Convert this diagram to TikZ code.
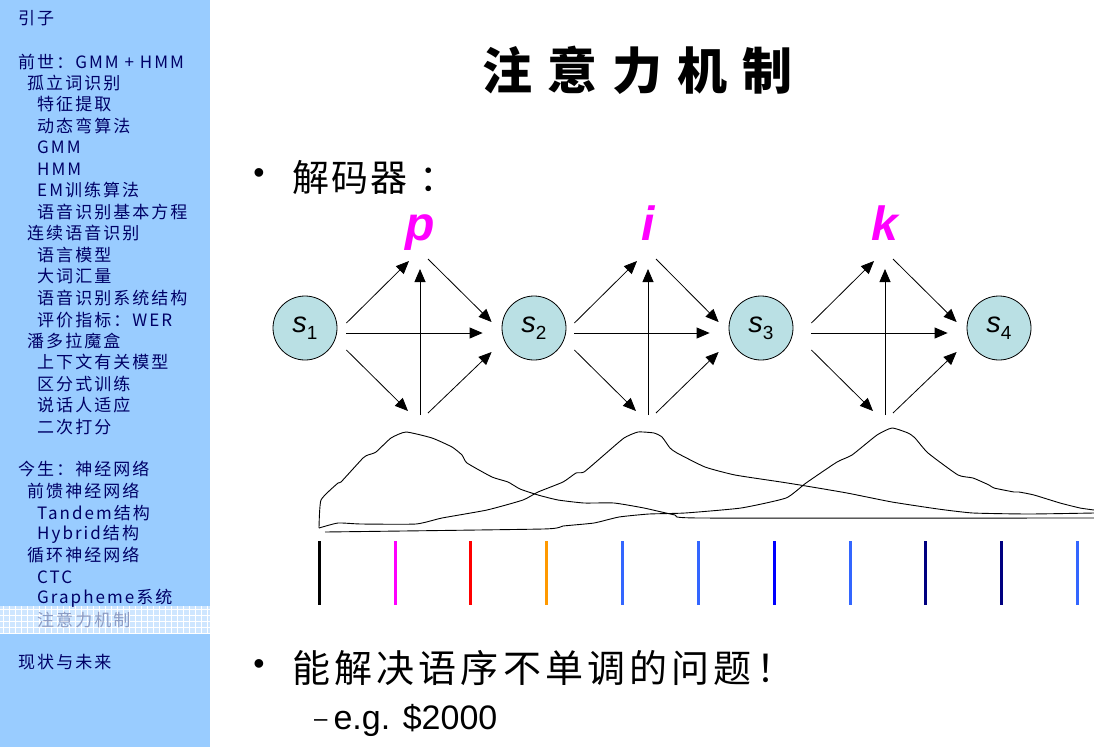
\documentclass[tikz,border=0pt]{standalone}
\usepackage{fontspec}
\setmainfont{Liberation Sans}
\newfontfamily\cjk{Noto Sans CJK SC}
\newfontfamily\sidefont[LetterSpace=12]{Noto Sans CJK SC}
\newfontfamily\titlefont[LetterSpace=30]{Noto Sans CJK SC}
\newfontfamily\headfont[LetterSpace=6]{Noto Sans CJK SC}
\newfontfamily\bulletfont[LetterSpace=11]{Noto Sans CJK SC}
\usetikzlibrary{arrows.meta}

\definecolor{sidebg}{RGB}{153,204,255}
\definecolor{sidetext}{RGB}{0,0,102}
\definecolor{sidegrey}{RGB}{140,155,195}
\definecolor{bandbg}{RGB}{206,230,255}
\definecolor{statefill}{RGB}{186,224,228}
\definecolor{pinkletter}{RGB}{255,0,255}
\definecolor{midblue}{RGB}{51,102,255}
\definecolor{darknavy}{RGB}{0,0,128}
\definecolor{barorange}{RGB}{255,153,0}

\newcommand{\statelabel}[1]{\textit{s}\raisebox{-0.45ex}{\fontsize{19}{19}\selectfont #1}}

\tikzset{
  sideitem/.style={anchor=west, inner sep=0pt, text=sidetext,
    font=\sidefont\fontsize{17}{17}\selectfont},
  state/.style={circle, draw, fill=statefill, line width=0.8pt,
    minimum size=64pt, inner sep=0pt, font=\fontsize{29}{29}\selectfont},
  letter/.style={anchor=base, inner sep=0pt, text=pinkletter,
    font=\fontsize{48}{48}\selectfont\bfseries\itshape},
  arr/.style={-{Triangle[length=13pt,width=11pt]}, line width=0.8pt},
  wave/.style={line width=0.9pt, line join=round},
  bar/.style={line width=3pt}
}

\begin{document}
\begin{tikzpicture}[x=1pt, y=-1pt]
  \useasboundingbox (0,0) rectangle (1094,747);

  % side bar
  \fill[sidebg] (0,0) rectangle (210,747);
  \fill[bandbg] (0,606) rectangle (210,633);
  \foreach \gx in {3,9,...,207}
    \draw[white, line width=0.6pt] (\gx,606) -- (\gx,633);
  \foreach \gy in {609,615,...,633}
    \draw[white, line width=0.6pt] (0,\gy) -- (210,\gy);

  \foreach \x/\y/\t in {18/18/引子, 18/62/前世：GMM + HMM,
      27/83/孤立词识别, 37/104/特征提取, 37/126/动态弯算法, 37/147/GMM,
      37/169/HMM, 37/190/EM训练算法, 37/212/语音识别基本方程,
      27/233/连续语音识别, 37/255/语言模型, 37/276/大词汇量,
      37/298/语音识别系统结构, 37/320/评价指标：WER,
      27/341/潘多拉魔盒, 37/362/上下文有关模型, 37/384/区分式训练,
      37/405/说话人适应, 37/427/二次打分,
      18/469/今生：神经网络, 27/491/前馈神经网络, 37/513/Tandem结构,
      37/534/Hybrid结构, 27/555/循环神经网络, 37/577/CTC,
      37/598/Grapheme系统, 18/662/现状与未来}
    \node[sideitem] (side\y) at (\x,\y) {\t};
  \node[sideitem, text=sidegrey] (side620) at (37,620) {注意力机制};

  % title and bullets
  \node[anchor=west, inner sep=0pt, font=\titlefont\bfseries\fontsize{50}{50}\selectfont]
    (title) at (482,70) {注意力机制};

  \node[inner sep=0pt, font=\fontsize{32}{32}\selectfont] (dot1) at (259,176) {•};
  \node[anchor=west, inner sep=0pt, font=\headfont\fontsize{37}{37}\selectfont]
    (decoder) at (292,177) {解码器\hspace{12pt}：};

  \node[inner sep=0pt, font=\fontsize{32}{32}\selectfont] (dot2) at (259,667) {•};
  \node[anchor=west, inner sep=0pt, font=\bulletfont\fontsize{38}{38}\selectfont]
    (order) at (292,668) {能解决语序不单调的问题！};
  \node[anchor=west, inner sep=0pt, font=\fontsize{34}{34}\selectfont]
    (example) at (314,720) {\raisebox{3pt}{\fontsize{24}{24}\selectfont –}\hspace{6pt}e.g. \$2000};

  % decoder states and output letters
  \node[state] (s1) at (305,328) {\statelabel{1}};
  \node[state] (s2) at (534,328) {\statelabel{2}};
  \node[state] (s3) at (761,328) {\statelabel{3}};
  \node[state] (s4) at (999,328) {\statelabel{4}};

  \node[letter] (lp) at (420,240) {p};
  \node[letter] (li) at (648,240) {i};
  \node[letter] (lk) at (885,240) {k};

  % arrows between the states
  \foreach \a/\b/\l/\jx/\o in {s1/s2/lp/420/9, s2/s3/li/648/8, s3/s4/lk/885/18} {
    \coordinate (top\l) at (\jx,258);
    \coordinate (bot\l) at (\jx,415);
    \draw[arr] ([shift={(\o,-5)}]\a.east) -- ([shift={(-11,3)}]top\l);
    \draw[arr] ([shift={(8,1)}]top\l) -- ([shift={(-10,-6)}]\b.west);
    \draw[arr] ([shift={(\o,5)}]\a.east) -- ([shift={(-19,5)}]\b.west);
    \draw[arr] ([shift={(\o,22)}]\a.east) -- ([shift={(-12,-4)}]bot\l);
    \draw[arr] ([shift={(8,-2)}]bot\l) -- ([shift={(-10,24)}]\b.west);
    \draw[arr] (bot\l) -- ([shift={(0,11)}]top\l);
  }

  % attention weights
  \draw[wave] plot[smooth, tension=0.3] coordinates {(319,528) (321,500) (338,483)
    (341,482) (363,458) (368,455) (376,452) (391,438) (406,432) (432,438)
    (452,447) (462,455) (467,463) (492,477) (508,482) (520,489) (538,495)
    (558,500) (584,503) (614,503) (644,508) (675,515) (700,518) (1094,518)};
  \draw[wave] plot[smooth, tension=0.3] coordinates {(319,528) (338,523) (361,524)
    (416,524) (442,518) (487,510) (523,500) (538,492) (563,482) (576,473)
    (584,472) (604,455) (624,438) (638,432) (654,433) (662,437) (670,448)
    (677,453) (705,467) (735,475) (781,482) (806,486) (847,493) (892,502)
    (938,509) (973,513) (1029,514) (1094,513)};
  \draw[wave] plot[smooth, tension=0.3] coordinates {(325,532) (543,529) (563,526)
    (594,523) (619,517) (649,514) (685,513) (741,508) (786,498) (806,483)
    (837,462) (852,455) (877,435) (892,428) (908,433) (915,438) (928,453)
    (958,475) (973,478) (989,485) (994,488) (1014,492) (1019,492) (1034,495)
    (1060,503) (1080,508) (1094,510)};

  % input frames
  \foreach \x/\c in {319/black, 395/pinkletter, 470/red, 546/barorange, 622/midblue,
      698/midblue, 774/blue, 850/midblue, 925/darknavy, 1001/darknavy, 1077/midblue}
    \draw[bar, \c] (\x,541) -- (\x,605);
\end{tikzpicture}
\end{document}
